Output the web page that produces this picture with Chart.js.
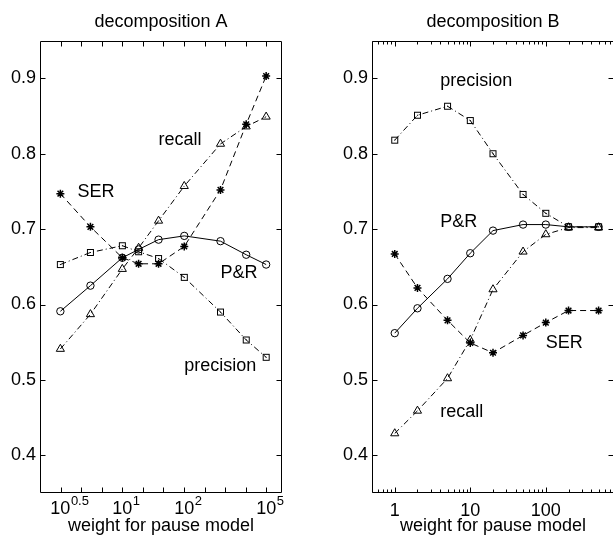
<!DOCTYPE html>
<html><head><meta charset="utf-8">
<script src="https://cdn.jsdelivr.net/npm/chart.js@4"></script>
<style>
html,body{margin:0;padding:0;background:#fff;overflow:hidden;width:613px;height:535px;}
canvas{position:absolute;top:0;}
#ca{left:0;}
#cb{left:306px;}
</style></head><body>
<canvas id="ca" width="306" height="535"></canvas>
<canvas id="cb" width="330" height="535"></canvas>
<script>
// ---------- data ----------
// Panel A: x = exponent of the weight (weight = 10^x)
const expA     = [0.5, 0.7, 1, 1.2, 1.5, 2, 3, 4, 5];
const serA     = [0.747, 0.703, 0.662, 0.654, 0.654, 0.677, 0.752, 0.839, 0.903];
const recallA  = [0.541, 0.587, 0.647, 0.675, 0.711, 0.757, 0.813, 0.836, 0.849];
const prA      = [0.591, 0.625, 0.662, 0.673, 0.686, 0.691, 0.684, 0.666, 0.653];
const precA    = [0.653, 0.669, 0.678, 0.670, 0.661, 0.636, 0.590, 0.553, 0.530];
const tickLabelsA = [0.5, 1, 2, 5];          // shown as 10^x

// Panel B: x = weight
const weightB  = [1, 2, 5, 10, 20, 50, 100, 200, 500];
const precB    = [0.818, 0.851, 0.863, 0.844, 0.800, 0.746, 0.721, 0.703, 0.703];
const prB      = [0.562, 0.595, 0.634, 0.668, 0.698, 0.706, 0.706, 0.703, 0.703];
const recallB  = [0.429, 0.459, 0.502, 0.553, 0.620, 0.670, 0.693, 0.702, 0.702];
const serB     = [0.667, 0.622, 0.579, 0.549, 0.536, 0.559, 0.576, 0.592, 0.592];
const tickLabelsB = [1, 10, 100];

const yTicks = [0.4, 0.5, 0.6, 0.7, 0.8, 0.9];

// ---------- styling ----------
const FONT = "'Liberation Sans', Arial, Helvetica, sans-serif";
const FS = 18;
const font = s => ({family: FONT, size: s, weight: 'normal', lineHeight: 1.2});

// square marker with a centre dot
const sq = document.createElement('canvas');
sq.width = 9; sq.height = 9;
(function () {
  const c = sq.getContext('2d');
  c.strokeStyle = '#000'; c.lineWidth = 1;
  c.strokeRect(1.5, 1.5, 6, 6);
  c.fillStyle = '#000'; c.fillRect(4, 4, 1, 1);
})();

const styles = {
  pr:     {pointStyle: 'circle',   pointRadius: 3.7, borderDash: []},
  recall: {pointStyle: 'triangle', pointRadius: 4.7, borderDash: [6, 3, 1, 3]},
  prec:   {pointStyle: sq,         pointRadius: 4.5, borderDash: [6, 3, 1, 3]},
  ser:    {pointStyle: 'star',     pointRadius: 4.0, borderDash: [6, 4], pointBorderWidth: 1.5}
};

function ds(label, xs, ys, st) {
  return Object.assign({
    label,
    data: xs.map((x, i) => ({x, y: ys[i]})),
    borderColor: '#000', borderWidth: 1,
    pointBorderColor: '#000', pointBackgroundColor: 'rgba(0,0,0,0)',
    pointBorderWidth: 1, pointHoverRadius: 0,
    fill: false, tension: 0, clip: false
  }, st);
}

// tick mark positions
const tickMarksA = [];
for (let k = -3; k <= 7; k++) tickMarksA.push({v: Math.pow(10, k / 10), len: 5});
const tickMarksB = tickLabelsB.map(v => ({v, len: 5}));
[0.1, 1, 10, 100].forEach(d => { for (let m = 2; m <= 9; m++) { const v = m * d; if (v >= 0.5 && v <= 800) tickMarksB.push({v, len: 3}); } });

const notesA = [
  {text: 'recall', x: 1.5, y: 0.818},
  {text: 'SER', x: 0.606, y: 0.749},
  {text: 'P&R', x: 3.0, y: 0.642},
  {text: 'precision', x: 2.0, y: 0.519}
];
const notesB = [
  {text: 'precision', x: 4, y: 0.897},
  {text: 'P&R', x: 4, y: 0.709},
  {text: 'SER', x: 100, y: 0.549},
  {text: 'recall', x: 4, y: 0.458}
];

const decor = {
  id: 'decor',
  afterDraw(chart, args, o) {
    const {ctx, chartArea: a, scales: {x, y}} = chart;
    ctx.save();
    ctx.strokeStyle = '#000'; ctx.lineWidth = 1; ctx.setLineDash([]);
    const L = Math.round(a.left) + 0.5, R = Math.round(a.right) - 0.5;
    const T = Math.round(a.top) + 0.5, B = Math.round(a.bottom) - 0.5;
    ctx.beginPath();
    ctx.rect(L, T, R - L, B - T);
    yTicks.forEach(v => {
      const py = Math.round(y.getPixelForValue(v)) + 0.5;
      ctx.moveTo(L, py); ctx.lineTo(L + 5, py);
      ctx.moveTo(R, py); ctx.lineTo(R - 5, py);
    });
    o.marks.forEach(t => {
      const px = Math.round(x.getPixelForValue(t.v)) + 0.5;
      ctx.moveTo(px, B); ctx.lineTo(px, B - t.len);
      ctx.moveTo(px, T); ctx.lineTo(px, T + t.len);
    });
    ctx.stroke();
    ctx.fillStyle = '#000';
    ctx.font = FS + 'px ' + FONT;
    ctx.textAlign = 'left'; ctx.textBaseline = 'middle';
    o.notes.forEach(n => ctx.fillText(n.text, x.getPixelForValue(n.x), y.getPixelForValue(n.y)));
    if (o.sup) {
      ctx.textBaseline = 'alphabetic';
      const baseY = a.bottom + 21;
      o.sup.forEach(e => {
        const px = x.getPixelForValue(e);
        ctx.font = FS + 'px ' + FONT;
        const w = ctx.measureText('10').width;
        ctx.fillText('10', px - w / 2, baseY);
        ctx.font = '13px ' + FONT;
        ctx.fillText(String(e), px + w / 2 + 0.5, baseY - 9);
      });
    }
    ctx.restore();
  }
};

function yScale() {
  return {
    type: 'linear', min: 0.35, max: 0.95,
    afterBuildTicks: s => { s.ticks = yTicks.map(v => ({value: v})); },
    ticks: {callback: v => v.toFixed(1), font: font(FS), color: '#000', padding: 4},
    grid: {display: false, drawTicks: false},
    border: {display: false},
    afterFit: s => { s.width = 40; }
  };
}

function xTitle() {
  return {display: true, text: 'weight for pause model', font: font(FS), color: '#000', padding: {top: 0, bottom: -2}};
}

function opts(title, xs, padL, padR, decorOpts) {
  return {
    responsive: false, animation: false, events: [],
    layout: {padding: {left: padL, right: padR, top: 0, bottom: 0}},
    plugins: {
      legend: {display: false}, tooltip: {enabled: false},
      title: {display: true, text: title, font: font(FS), color: '#000', fullSize: false, padding: {top: 11, bottom: 8}},
      decor: decorOpts
    },
    scales: {x: xs, y: yScale()}
  };
}

new Chart(document.getElementById('ca'), {
  type: 'line',
  data: {datasets: [
    ds('P&R', expA, prA, styles.pr),
    ds('recall', expA, recallA, styles.recall),
    ds('precision', expA, precA, styles.prec),
    ds('SER', expA, serA, styles.ser)
  ]},
  options: opts('decomposition A', {
    type: 'logarithmic', min: Math.pow(10, -0.4), max: Math.pow(10, 0.776),
    afterBuildTicks: s => { s.ticks = tickMarksA.map(t => ({value: t.v})); },
    ticks: {display: false},
    grid: {display: false, drawTicks: false},
    border: {display: false},
    title: xTitle(),
    afterFit: s => { s.height = 42; }
  }, 0, 24, {marks: tickMarksA, notes: notesA, sup: tickLabelsA}),
  plugins: [decor]
});

new Chart(document.getElementById('cb'), {
  type: 'line',
  data: {datasets: [
    ds('P&R', weightB, prB, styles.pr),
    ds('recall', weightB, recallB, styles.recall),
    ds('precision', weightB, precB, styles.prec),
    ds('SER', weightB, serB, styles.ser)
  ]},
  options: opts('decomposition B', {
    type: 'logarithmic', min: 0.5, max: 800,
    afterBuildTicks: s => { s.ticks = tickMarksB.map(t => ({value: t.v})); },
    ticks: {
      callback: v => tickLabelsB.includes(v) ? String(v) : '',
      font: font(FS), color: '#000', padding: 7, autoSkip: false, maxRotation: 0
    },
    grid: {display: false, drawTicks: false},
    border: {display: false},
    title: xTitle(),
    afterFit: s => { s.height = 42; }
  }, 26, 22, {marks: tickMarksB, notes: notesB, sup: null}),
  plugins: [decor]
});
</script>
</body></html>
